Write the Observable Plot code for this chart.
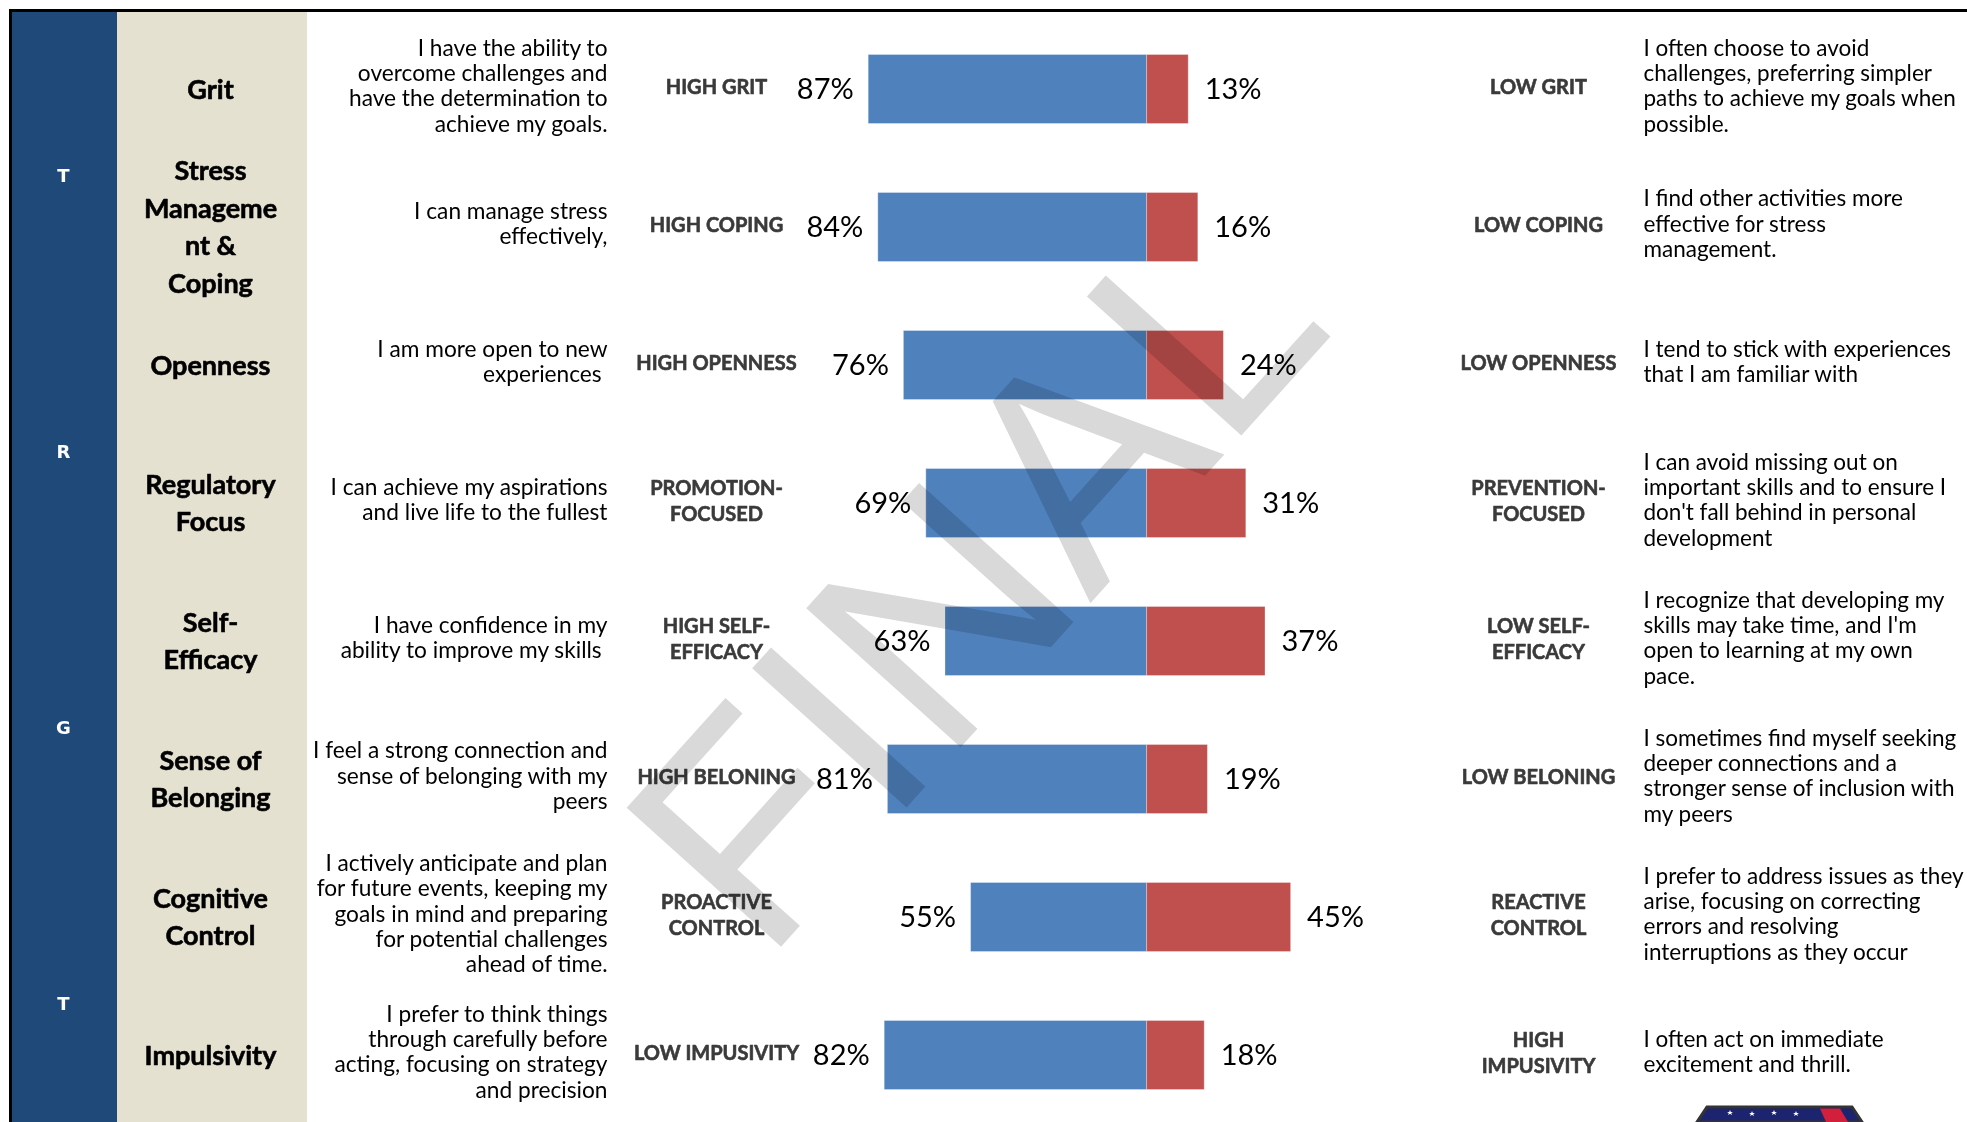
<!DOCTYPE html>
<html>
<head>
<meta charset="utf-8">
<script src="https://cdn.jsdelivr.net/npm/d3@7"></script>
<script src="https://cdn.jsdelivr.net/npm/@observablehq/plot@0.6"></script>
<style>
  html, body { margin: 0; padding: 0; background: #ffffff; }
  #page { position: relative; width: 1967px; height: 1122px; overflow: hidden; background: #ffffff; }
  #chart { position: absolute; left: 0; top: 0; }
  .rule { position: absolute; background: #000000; z-index: 5; }
  #logo { position: absolute; left: 1690px; top: 1104px; z-index: 6; }
</style>
</head>
<body>
<div id="page">
  <div id="chart"></div>
  <div class="rule" style="left:9px; top:9px; width:1958px; height:3px;"></div>
  <div class="rule" style="left:9px; top:9px; width:3px; height:1113px;"></div>
  <svg id="logo" width="180" height="18" viewBox="0 0 180 18">
    <polygon points="17,3 162,3 172,18 7,18" fill="#1c2470" stroke="#333333" stroke-width="3"/>
    <polygon points="130,4.5 150,4.5 158,18 136,18" fill="#d21f3c"/>
    <g fill="#ffffff">
      <polygon points="40,6 42,11 37,8 43,8 38,11"/>
      <polygon points="62,7 64,12 59,9 65,9 60,12"/>
      <polygon points="84,6 86,11 81,8 87,8 82,11"/>
      <polygon points="106,7 108,12 103,9 109,9 104,12"/>
    </g>
  </svg>
</div>
<script>
// ---- data ----
const traits = ["Grit", "Stress\nManageme\nnt &\nCoping", "Openness", "Regulatory\nFocus", "Self-\nEfficacy", "Sense of\nBelonging", "Cognitive\nControl", "Impulsivity"];
const highPct = [87, 84, 76, 69, 63, 81, 55, 82];
const lowPct = [13, 16, 24, 31, 37, 19, 45, 18];
const highLabels = ["HIGH GRIT", "HIGH COPING", "HIGH OPENNESS", "PROMOTION-\nFOCUSED", "HIGH SELF-\nEFFICACY", "HIGH BELONING", "PROACTIVE\nCONTROL", "LOW IMPUSIVITY"];
const lowLabels = ["LOW GRIT", "LOW COPING", "LOW OPENNESS", "PREVENTION-\nFOCUSED", "LOW SELF-\nEFFICACY", "LOW BELONING", "REACTIVE\nCONTROL", "HIGH\nIMPUSIVITY"];
const leftDesc = [
  "I have the ability to\novercome challenges and\nhave the determination to\nachieve my goals.",
  "I can manage stress\neffectively,",
  "I am more open to new\nexperiences\u00a0",
  "I can achieve my aspirations\nand live life to the fullest",
  "I have confidence in my\nability to improve my skills\u00a0",
  "I feel a strong connection and\nsense of belonging with my\npeers",
  "I actively anticipate and plan\nfor future events, keeping my\ngoals in mind and preparing\nfor potential challenges\nahead of time.",
  "I prefer to think things\nthrough carefully before\nacting, focusing on strategy\nand precision"
];
const rightDesc = [
  "I often choose to avoid\nchallenges, preferring simpler\npaths to achieve my goals when\npossible.",
  "I find other activities more\neffective for stress\nmanagement.",
  "I tend to stick with experiences\nthat I am familiar with",
  "I can avoid missing out on\nimportant skills and to ensure I\ndon't fall behind in personal\ndevelopment",
  "I recognize that developing my\nskills may take time, and I'm\nopen to learning at my own\npace.",
  "I sometimes find myself seeking\ndeeper connections and a\nstronger sense of inclusion with\nmy peers",
  "I prefer to address issues as they\narise, focusing on correcting\nerrors and resolving\ninterruptions as they occur",
  "I often act on immediate\nexcitement and thrill."
];
const sideLetters = ["T", "R", "G", "T"];
const watermark = ["FINAL"];

// ---- table built from the arrays ----
const rows = traits.map((t, i) => ({
  trait: t, high: highPct[i], low: lowPct[i],
  highLabel: highLabels[i], lowLabel: lowLabels[i],
  leftDesc: leftDesc[i], rightDesc: rightDesc[i]
}));
const letters = sideLetters.map((l, i) => ({letter: l, trait: traits[i * 2]}));

// ---- layout ----
const W = 1967, H = 1122;
const CX = 1146.6;          // pixel position of the 0 (split) line
const PPU = 3.2;            // pixels per percentage point
const u = p => (p - CX) / PPU;   // pixel column -> x units
const STEP = 138.8, TOP = 86.5 - STEP / 2;
const FONT = "Lato, 'Open Sans', sans-serif";

const chart = Plot.plot({
  width: W, height: H,
  marginTop: 12, marginLeft: 0, marginRight: 0, marginBottom: 0,
  x: {domain: [u(0), u(W)], range: [0, W], axis: null},
  y: {domain: traits, range: [TOP, TOP + STEP * traits.length], padding: 0, axis: null},
  style: {background: "transparent", overflow: "visible"},
  marks: [
    // side columns
    Plot.rect([0], {x1: u(12), x2: u(117), fill: "#1f4979"}),
    Plot.rect([0], {x1: u(117), x2: u(307), fill: "#e4e1d1"}),
    // side letters
    Plot.text(letters, {x: u(63), y: "trait", dy: STEP / 2 + 17, text: "letter", fill: "#ffffff",
      fontFamily: "'DejaVu Sans', sans-serif", fontWeight: "bold", fontSize: 18}),
    // trait names
    Plot.text(rows, {x: u(210), y: "trait", text: "trait", fontFamily: FONT, fontWeight: "bold",
      fontSize: 27, lineHeight: 1.39, fill: "#000000", stroke: "#000000", strokeWidth: 0.6, dy: -3}),
    // left descriptions
    Plot.text(rows, {x: u(607), y: "trait", text: "leftDesc", textAnchor: "end", fontFamily: FONT,
      fontSize: 22.7, lineHeight: 1.12, fill: "#000000", dy: -4}),
    // high labels
    Plot.text(rows, {x: u(716), y: "trait", text: "highLabel", fontFamily: FONT, fontWeight: "bold",
      fontSize: 20, lineHeight: 1.3, fill: "#3a3a3a", stroke: "#3a3a3a", strokeWidth: 0.6, dy: -4}),
    // bars
    Plot.barX(rows, {y: "trait", x1: d => -d.high, x2: 0, fill: "#4f81bd",
      insetTop: 34.5, insetBottom: 34.5, stroke: "#ffffff", strokeOpacity: 0.3, strokeWidth: 1}),
    Plot.barX(rows, {y: "trait", x1: 0, x2: "low", fill: "#c0504d",
      insetTop: 34.5, insetBottom: 34.5, stroke: "#ffffff", strokeOpacity: 0.3, strokeWidth: 1}),
    // percentages
    Plot.text(rows, {x: d => -d.high, y: "trait", text: d => d.high + "%", textAnchor: "end", dx: -15,
      fontFamily: FONT, fontSize: 29, fill: "#000000"}),
    Plot.text(rows, {x: "low", y: "trait", text: d => d.low + "%", textAnchor: "start", dx: 16,
      fontFamily: FONT, fontSize: 29, fill: "#000000"}),
    // low labels
    Plot.text(rows, {x: u(1538), y: "trait", text: "lowLabel", fontFamily: FONT, fontWeight: "bold",
      fontSize: 20, lineHeight: 1.3, fill: "#3a3a3a", stroke: "#3a3a3a", strokeWidth: 0.6, dy: -4}),
    // right descriptions
    Plot.text(rows, {x: u(1643), y: "trait", text: "rightDesc", textAnchor: "start", fontFamily: FONT,
      fontSize: 22.5, lineHeight: 1.13, fill: "#000000", dy: -4}),
    // watermark
    Plot.text(watermark, {frameAnchor: "middle", text: d => d, rotate: -48, dx: -5, dy: 15,
      fontFamily: "'Liberation Sans', Arial, sans-serif", fontSize: 302, fill: "#d9d9d9",
      mixBlendMode: "multiply"})
  ]
});
document.getElementById("chart").appendChild(chart);
</script>
</body>
</html>
